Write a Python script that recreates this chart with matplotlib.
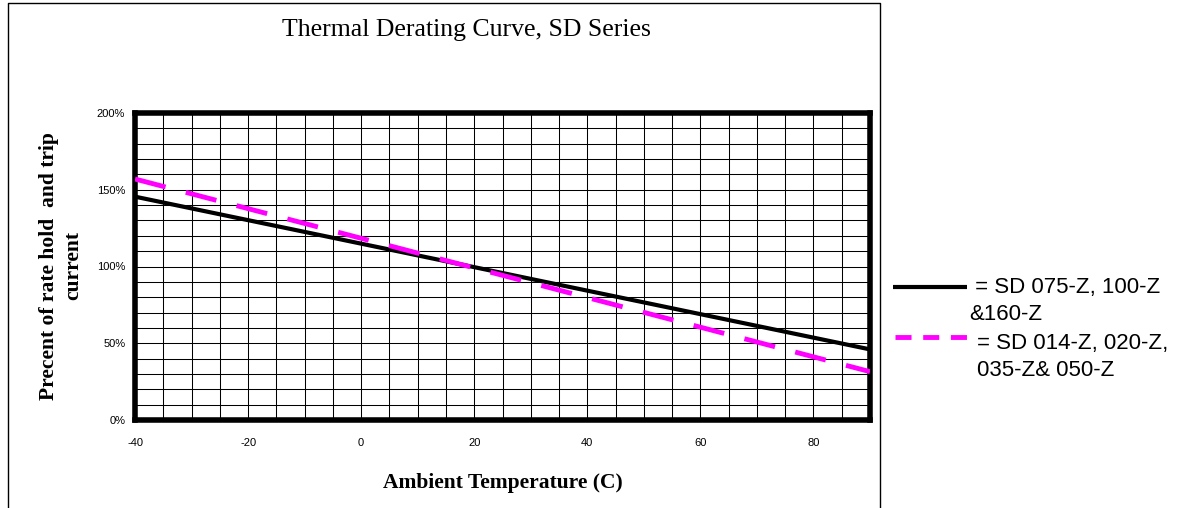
import matplotlib
matplotlib.use("Agg")
import matplotlib.pyplot as plt
from matplotlib.lines import Line2D
import numpy as np

# data
temps = [-40, 90]
hold_large = [145.5, 46]     # SD 075-Z, 100-Z & 160-Z
hold_small = [157, 31.5]     # SD 014-Z, 020-Z, 035-Z & 050-Z
xticks = [-40, -20, 0, 20, 40, 60, 80]
yticks = [0, 50, 100, 150, 200]
label_large = [" = SD 075-Z, 100-Z", "&160-Z"]
label_small = ["= SD 014-Z, 020-Z,", "035-Z& 050-Z"]

W, H = 1187, 508
fig = plt.figure(figsize=(W / 100, H / 100), dpi=100)

# axes placement in pixels
left, right, top, bottom = 135, 870, 113, 420
ax = fig.add_axes([left / W, 1 - bottom / H, (right - left) / W, (bottom - top) / H])

ax.plot(temps, hold_large, color="black", lw=3, solid_capstyle="butt", zorder=3)
ax.plot(temps, hold_small, color="#ff00ff", lw=3.5, dashes=(6.5, 4.3), zorder=3)

ax.set_xlim(-40, 90)
ax.set_ylim(0, 200)
ax.set_xticks(xticks)
ax.set_xticklabels([str(t) for t in xticks], family="Liberation Sans", fontsize=8)
ax.set_yticks(yticks)
ax.set_yticklabels(["{}%".format(t) for t in yticks], family="Liberation Sans", fontsize=8)
ax.set_xticks(np.arange(-40, 91, 5), minor=True)
ax.set_yticks(np.arange(0, 201, 10), minor=True)
ax.tick_params(which="both", length=0)
ax.tick_params(axis="x", pad=13)
ax.tick_params(axis="y", pad=7)
ax.grid(which="both", color="black", lw=0.75)
ax.set_axisbelow(True)
for s in ax.spines.values():
    s.set_linewidth(4)

fig.text(466 / W, 1 - 30 / H, "Thermal Derating Curve, SD Series",
         family="Liberation Serif", fontsize=18.5, ha="center", va="center")
fig.text(503 / W, 1 - 483 / H, "Ambient Temperature (C)",
         family="Liberation Serif", fontsize=15.5, weight="bold", ha="center", va="center")
fig.text(61 / W, 1 - 266 / H, "Precent of rate hold  and trip\ncurrent",
         family="Liberation Serif", fontsize=15.5, weight="bold", ha="center", va="center",
         rotation=90, linespacing=1.25)

# outer chart border
fig.add_artist(Line2D([8 / W, 8 / W, 880 / W, 880 / W], [-0.1, 1 - 3 / H, 1 - 3 / H, -0.1],
                      color="black", lw=1))

# legend, drawn by hand to the right of the border
fig.add_artist(Line2D([893 / W, 967 / W], [1 - 287 / H] * 2, color="black", lw=3,
                      solid_capstyle="butt"))
fig.add_artist(Line2D([895 / W, 967 / W], [1 - 337 / H] * 2, color="#ff00ff", lw=3.5,
                      dashes=(3.3, 2.4)))
legend_font = {"family": "Liberation Sans", "fontsize": 16, "va": "center", "ha": "left"}
fig.text(969 / W, 1 - 288 / H, label_large[0], **legend_font)
fig.text(969 / W, 1 - 315 / H, label_large[1], **legend_font)
fig.text(977 / W, 1 - 343 / H, label_small[0], **legend_font)
fig.text(977 / W, 1 - 370 / H, label_small[1], **legend_font)

fig.savefig("out.png", dpi=100)
